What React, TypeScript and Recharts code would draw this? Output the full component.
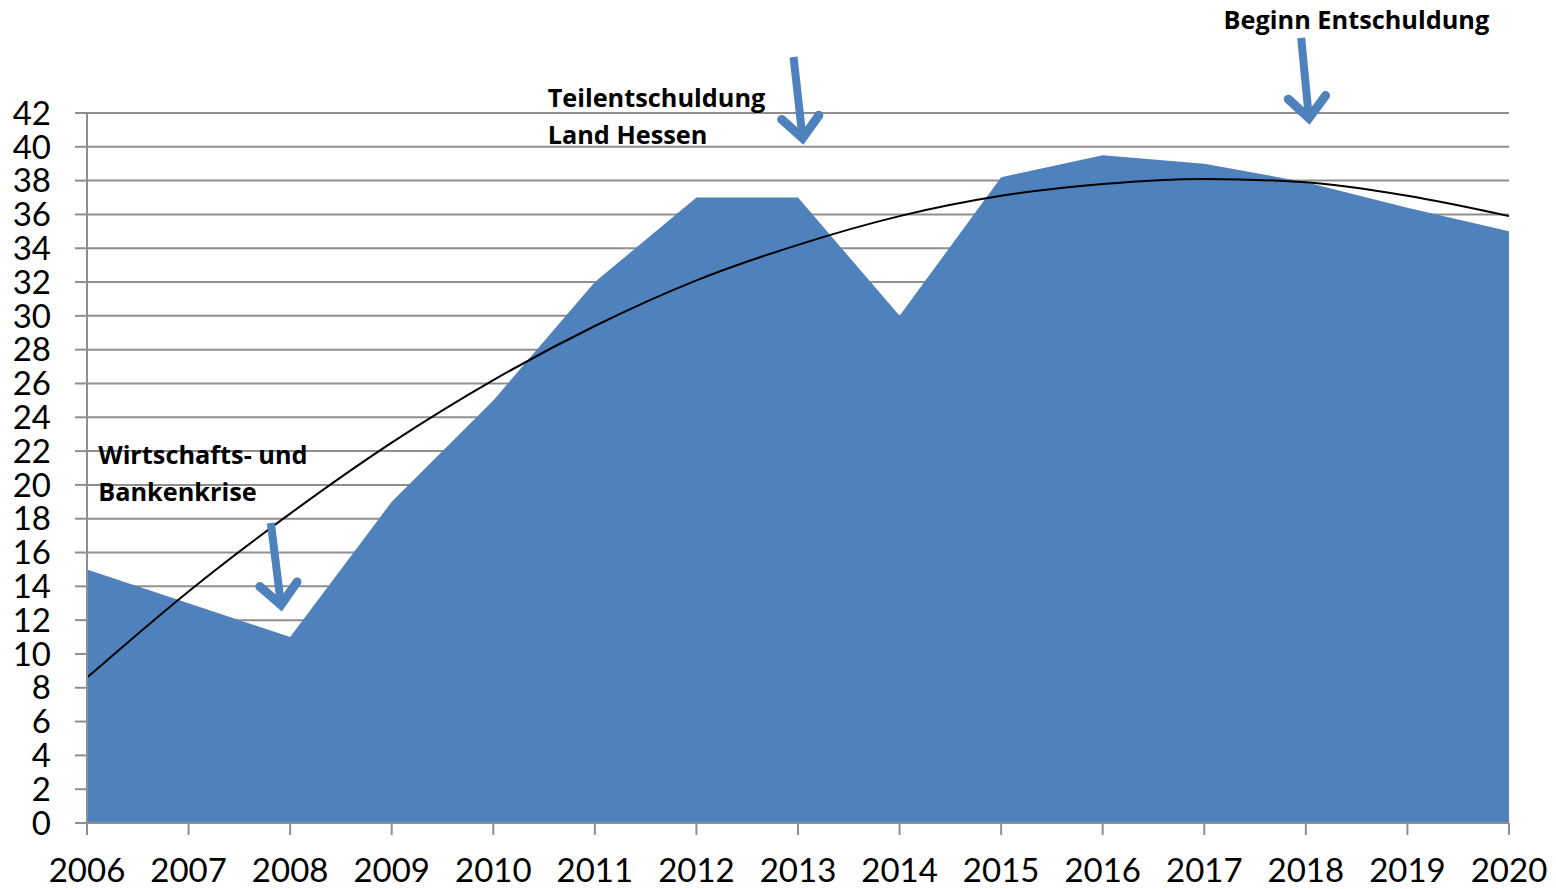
import React from 'react';
import {
  ComposedChart,
  Area,
  Line,
  XAxis,
  YAxis,
  CartesianGrid,
  ReferenceLine,
  ReferenceDot,
} from 'recharts';

const years = [2006, 2007, 2008, 2009, 2010, 2011, 2012, 2013, 2014, 2015, 2016, 2017, 2018, 2019, 2020];
const values = [15, 13, 11, 19, 25, 32, 37, 37, 30, 38.2, 39.5, 39, 37.9, 36.4, 35];
const trend = [8.6, 13.7, 18.3, 22.5, 26.2, 29.4, 32.1, 34.2, 35.9, 37.1, 37.8, 38.1, 37.9, 37.1, 35.9];
const yTicks = [0, 2, 4, 6, 8, 10, 12, 14, 16, 18, 20, 22, 24, 26, 28, 30, 32, 34, 36, 38, 40, 42];

const arrows = [
  { from: { x: 2007.81, y: 17.75 }, to: { x: 2007.91, y: 12.9 } },
  { from: { x: 2012.956, y: 45.31 }, to: { x: 2013.045, y: 40.52 } },
  { from: { x: 2017.954, y: 46.44 }, to: { x: 2018.03, y: 41.7 } },
];

const annotations = [
  { x: 2006.11, y: 21.24, lines: ['Wirtschafts- und', 'Bankenkrise'] },
  { x: 2010.535, y: 42.36, lines: ['Teilentschuldung', 'Land Hessen'] },
  { x: 2017.19, y: 46.97, lines: ['Beginn Entschuldung'] },
];

const data = years.map((year, i) => ({ year, value: values[i], trend: trend[i] }));

const BLUE = '#4F81BD';
const GRID = '#8f8f8f';
const FONT = 'Lato, "Open Sans", sans-serif';
const ANN_FONT = '"Open Sans", Lato, sans-serif';

const ArrowShape = (props: any) => {
  const { x1, y1, x2, y2 } = props;
  if ([x1, y1, x2, y2].some((v) => v == null || isNaN(v))) return null;
  const dx = x2 - x1;
  const dy = y2 - y1;
  const len = Math.sqrt(dx * dx + dy * dy);
  const ux = dx / len;
  const uy = dy / len;
  const wing = 28;
  const ang = (42 * Math.PI) / 180;
  const cos = Math.cos(ang);
  const sin = Math.sin(ang);
  const bx = -ux;
  const by = -uy;
  const w1x = x2 + wing * (bx * cos - by * sin);
  const w1y = y2 + wing * (bx * sin + by * cos);
  const w2x = x2 + wing * (bx * cos + by * sin);
  const w2y = y2 + wing * (-bx * sin + by * cos);
  return (
    <g>
      <line x1={x1} y1={y1} x2={x2 - ux * 4} y2={y2 - uy * 4} stroke={BLUE} strokeWidth={8} />
      <polyline
        points={`${w1x},${w1y} ${x2},${y2} ${w2x},${w2y}`}
        fill="none"
        stroke={BLUE}
        strokeWidth={9}
        strokeLinejoin="miter"
        strokeLinecap="round"
      />
    </g>
  );
};

const makeTextShape = (lines: string[]) => (props: any) => {
  const { cx, cy } = props;
  if (cx == null || cy == null) return null;
  return (
    <text x={cx} y={cy} fontFamily={ANN_FONT} fontWeight={700} fontSize={25.3} fill="#000" textAnchor="start">
      {lines.map((l, i) => (
        <tspan key={i} x={cx} y={cy + i * 37}>
          {l}
        </tspan>
      ))}
    </text>
  );
};

export default function App() {
  return (
    <div style={{ position: 'absolute', left: 0, top: 0, background: '#fff' }}>
      <ComposedChart
        width={1556}
        height={889}
        data={data}
        margin={{ top: 113, right: 47, left: 0, bottom: 0 }}
      >
        <CartesianGrid horizontal vertical={false} stroke={GRID} strokeWidth={2} />
        <XAxis
          dataKey="year"
          type="number"
          domain={[2006, 2020]}
          ticks={years}
          interval={0}
          height={66}
          tickSize={12}
          tickMargin={24}
          stroke={GRID}
          strokeWidth={2}
          tick={{ fill: '#000', fontSize: 33, fontFamily: FONT }}
          allowDecimals={false}
        />
        <YAxis
          type="number"
          domain={[0, 42]}
          ticks={yTicks}
          interval={0}
          width={87}
          tickSize={12}
          tickMargin={24}
          stroke={GRID}
          strokeWidth={2}
          tick={{ fill: '#000', fontSize: 33, fontFamily: FONT }}
        />
        <Area
          dataKey="value"
          type="linear"
          fill={BLUE}
          fillOpacity={1}
          stroke="none"
          isAnimationActive={false}
          dot={false}
          activeDot={false}
        />
        <Line
          dataKey="trend"
          type="monotone"
          stroke="#000"
          strokeWidth={2}
          dot={false}
          activeDot={false}
          isAnimationActive={false}
        />
        {arrows.map((a, i) => (
          <ReferenceLine
            key={`a${i}`}
            segment={[a.from, a.to]}
            ifOverflow="visible"
            shape={ArrowShape}
          />
        ))}
        {annotations.map((a, i) => (
          <ReferenceDot
            key={`t${i}`}
            x={a.x}
            y={a.y}
            r={0}
            ifOverflow="visible"
            shape={makeTextShape(a.lines)}
          />
        ))}
      </ComposedChart>
    </div>
  );
}
